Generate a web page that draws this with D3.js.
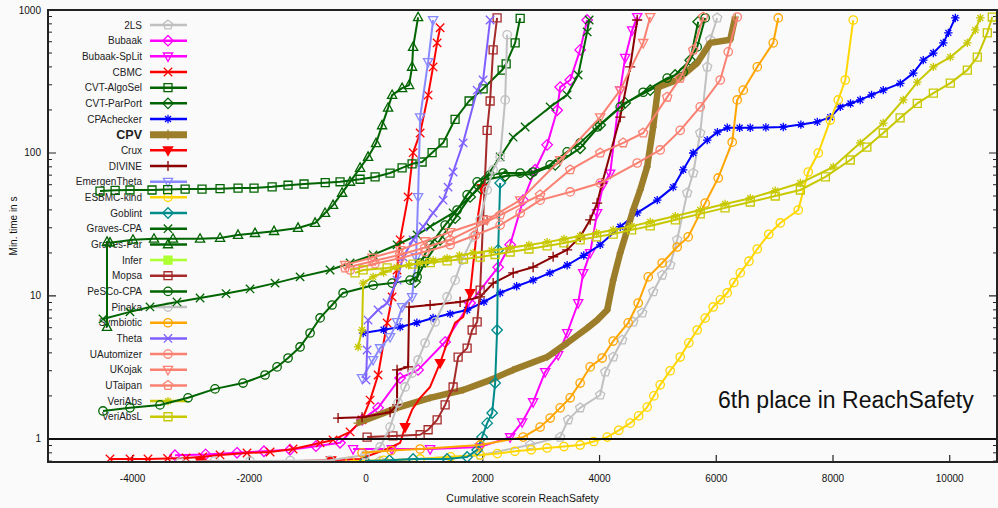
<!DOCTYPE html>
<html>
<head>
<meta charset="utf-8">
<script src="https://cdn.jsdelivr.net/npm/d3@7"></script>
<style>
  body { margin: 0; background: #fafafa; }
  svg { display: block; font-family: "Liberation Sans", Arial, sans-serif; }
</style>
</head>
<body>
<svg id="chart" width="998" height="508"></svg>
<script>
// ---------- data: [cumulative score, min. time in s] ----------
const seriesNames = ["2LS", "Bubaak", "Bubaak-SpLit", "CBMC", "CVT-AlgoSel", "CVT-ParPort", "CPAchecker", "CPV",
  "Crux", "DIVINE", "EmergenTheta", "ESBMC-kind", "Goblint", "Graves-CPA", "Graves-Par", "Infer", "Mopsa",
  "PeSCo-CPA", "Pinaka", "Symbiotic", "Theta", "UAutomizer", "UKojak", "UTaipan", "VeriAbs", "VeriAbsL"];

const seriesColors = ["#c0c0c0", "#ff00ff", "#ff00ff", "#ff0000", "#006400", "#006400", "#0000ff", "#9c7d2a",
  "#ff0000", "#8b0000", "#8888ff", "#ffd700", "#008b8b", "#006400", "#006400", "#adff2f", "#a52a2a",
  "#006400", "#c0c0c0", "#ffa500", "#7f5fff", "#fa8072", "#fa8072", "#fa8072", "#c8c800", "#c8c800"];

const seriesMarkers = ["pentagon", "diamond", "triDown", "x", "square", "diamond", "asterisk", "plus",
  "triDownFilled", "plus", "triDown", "circle", "diamond", "x", "triUp", "squareFilled", "square",
  "circle", "circle", "circle", "x", "circle", "triDown", "pentagon", "asterisk", "square"];

// draw a marker on every n-th point
const markerStep = [1, 1, 1, 1, 1, 1, 1, 1, 4, 1, 1, 1, 1, 1, 1, 1, 1, 1, 1, 1, 1, 1, 1, 1, 1, 1];

const twoLS = [[240,0.70],[1954,0.77],[2811,0.91],[3325,1.03],[3462,1.36],[3668,1.65],[4011,2.03],[4097,2.94],
  [4234,3.74],[4388,4.92],[4577,6.58],[4731,7.61],[4919,10.7],[5073,14.0],[5210,16.5],[5330,24.7],[5502,52.6],
  [5605,72.4],[5725,138],[5845,400],[5896,620],[6016,880]];
const bubaak = [[-3274,0.77],[-2750,0.78],[-2211,0.80],[-1750,0.82],[-1303,0.84],[-860,0.89],[-446,0.94],[-69,1.36],
  [206,1.65],[583,2.67],[891,3.04],[1354,4.76],[1783,8.93],[2263,15.9],[2468,22.8],[2691,46.8],[2897,76.3],
  [3102,114],[3274,199],[3325,289],[3497,324],[3668,526],[3788,851]];
const bubaakSpLit = [[-223,0.85],[440,0.85],[1097,0.85],[1954,0.88],[2468,1.03],[2674,1.31],[2862,1.81],[3068,2.94],
  [3291,3.87],[3445,5.51],[3634,8.93],[3720,14.5],[3839,20.0],[3959,38.1],[4062,60],[4182,72],[4354,275],
  [4439,464],[4559,722],[4645,893]];
const cbmc = [[-4388,0.725],[-4045,0.725],[-3737,0.725],[-3400,0.73],[-3085,0.736],[-2800,0.75],[-2502,0.773],[-2040,0.798],
  [-1645,0.811],[-1251,0.851],[-788,0.938],[-566,0.984],[-274,1.12],[-69,1.36],[69,1.87],[206,2.80],[360,6.48],
  [446,9.84],[531,15.2],[583,24.7],[720,49.3],[806,100.5],[926,138],[1063,254],[1148,400],[1217,589],[1268,751]];
const cvtAlgoSel = [[-4559,54.2],[-4300,54.8],[-4045,55.1],[-3668,55.1],[-3400,55.5],[-3100,55.9],[-2811,55.9],
  [-2502,56.3],[-2194,56.8],[-1920,56.8],[-1610,58],[-1337,59.5],[-1063,60.7],[-700,62],[-446,62.9],[-103,65.5],
  [154,68.0],[411,72.4],[617,78.6],[788,84],[960,86.5],[1131,100.5],[1320,117.7],[1525,172],[1765,231],[2005,281],
  [2331,380],[2400,420],[2554,589],[2640,875]];
const cvtParPort = [[840,12.5],[1011,17.3],[1268,24.7],[1525,35.0],[1783,49.3],[2040,64.9],[2383,69.0],[2811,71.0],
  [3240,82.6],[3668,108],[4011,157],[4439,224],[4868,275],[5296,351],[5553,445],[5690,827]];
const cpachecker = [[-51,5.51],[300,5.8],[583,6.06],[870,6.5],[1148,7.02],[1440,7.5],[1731,7.98],[2020,9.1],
  [2297,10.5],[2580,11.7],[2862,12.9],[3150,14.5],[3445,16.4],[3730,19.2],[4011,22.8],[4354,30.5],[4645,38.1],
  [4988,46.8],[5262,57.7],[5433,76.3],[5605,100],[5845,123],[6020,140],[6188,150],[6400,150],[6582,150],
  [6850,151],[7148,152],[7450,158],[7731,165],[7953,178],[8125,210],[8300,222],[8467,235],[8661,255],[8861,275],
  [9153,307],[9376,362],[9547,446],[9719,500],[9890,589],[9976,692],[10096,880]];
const cpv = [[-154,1.29],[531,1.65],[1097,1.94],[1663,2.20],[2125,2.58],[2520,3.04],[3102,3.74],[3445,4.69],
  [3788,5.96],[3959,6.78],[4131,7.98],[4234,12.9],[4354,20.0],[4474,28.9],[4577,40.0],[4697,55.1],[4816,80.1],
  [4919,152],[5005,289],[5330,324],[5673,426],[5896,589],[6239,620],[6325,893]];
const crux = [[-2845,0.70],[-2300,0.70],[-1700,0.70],[-1131,0.70],[-600,0.71],[-103,0.725],[360,0.851],[583,0.938],
  [668,1.21],[788,1.60],[926,1.94],[1097,2.31],[1268,3.40],[1405,4.92],[1525,6.48],[1663,7.13],[1783,10.5],
  [1834,16.5],[1868,21.7],[1920,36.8],[1988,56.8]];
const divine = [[-480,1.40],[-69,1.42],[411,1.54],[531,1.73],[531,3.04],[720,3.19],[737,8.38],[1097,8.65],[1611,9.09],
  [1954,9.84],[2177,12.3],[2520,14.5],[2862,15.9],[3205,18.8],[3445,21.0],[3668,25.9],[3839,34.1],[3959,44.6],
  [4045,61.6],[4354,178],[4525,400],[4645,851]];
const emergenTheta = [[-69,2.67],[120,3.57],[240,4.32],[411,5.17],[531,6.58],[617,8.38],[788,9.84],[857,18.7],
  [891,49.3],[926,178],[1063,433],[1148,851]];
const esbmcKind = [[-274,0.70],[300,0.71],[926,0.725],[1450,0.75],[1954,0.773],[2250,0.79],[2550,0.82],[2830,0.84],
  [3102,0.865],[3390,0.885],[3668,0.908],[3900,0.96],[4131,1.03],[4330,1.15],[4525,1.29],[4670,1.45],[4816,1.67],
  [4930,2.0],[5039,2.39],[5210,3.0],[5382,3.74],[5530,4.7],[5673,5.78],[5810,7.0],[5947,8.38],[6070,9.4],
  [6188,10.5],[6300,12.4],[6411,14.5],[6560,17.5],[6702,21.3],[6900,27],[7097,32.4],[7405,39.9],
  [7576,73.6],[7748,100],[7953,170],[8090,235],[8210,324],[8347,851]];
const goblint = [[-17,0.70],[400,0.71],[806,0.725],[1388,0.725],[1731,0.748],[1903,0.838],[1988,1.03],[2074,1.29],
  [2160,1.52],[2211,2.46],[2245,5.78],[2263,21.0],[2297,61.6]];
const gravesCPA = [[-4508,6.9],[-4045,7.74],[-3702,8.38],[-3240,9.09],[-2845,9.68],[-2400,10.4],[-1988,11.2],
  [-1560,12.3],[-1131,13.6],[-617,15.2],[-274,17.0],[120,19.4],[531,22.8],[874,26.7],[1097,30.5],[1491,38.1],
  [1903,55.1],[2297,93.8],[2520,129],[2725,152],[3154,210],[3445,255],[3634,351],[3788,703],[3822,851]];
const gravesPar = [[-4439,6.07],[-4439,23.9],[-4388,23.6],[-3994,24.7],[-3634,25.1],[-3308,25.1],[-2845,25.1],
  [-2502,25.4],[-2194,26.7],[-1903,27.5],[-1577,28.4],[-1166,29.9],[-874,32.4],[-703,38.0],[-566,43.2],
  [-411,52.6],[-274,62.8],[-103,78.6],[34,93.8],[171,117],[274,156],[377,207],[446,254],[617,284],[737,298],
  [788,400],[806,551],[891,889]];
const infer = [];
const mopsa = [[17,1.03],[460,1.05],[926,1.07],[1063,1.16],[1217,1.36],[1354,1.73],[1491,2.31],[1577,3.74],
  [1731,4.32],[1817,5.78],[1903,6.58],[1954,11.0],[2005,34.1],[2074,144],[2125,231],[2177,526],[2245,880]];
const pescoCPA = [[-4508,1.57],[-4045,1.65],[-3531,1.73],[-3051,1.94],[-2588,2.24],[-2108,2.46],[-1731,2.80],
  [-1525,3.19],[-1337,3.68],[-1131,4.40],[-960,5.51],[-788,7.02],[-583,8.65],[-394,10.5],[120,11.9],[446,12.3],
  [754,12.9],[874,13.6],[926,17.0],[1097,22.7],[1354,31.3],[1560,39.9],[1731,50.9],[1903,62.8],[2125,70.3],
  [2348,72.4],[2640,72.4],[2862,73.6],[3154,82.6],[3445,101.9],[3668,117.7],[3959,152],[4354,210],[4748,266],
  [5159,334],[5433,368],[5673,552],[5810,880]];
const pinaka = [[-3188,0.69],[-2600,0.70],[-1988,0.70],[-1300,0.705],[-617,0.71],[-17,0.773],[240,0.879],[411,1.21],
  [549,1.79],[668,2.31],[788,2.89],[891,3.57],[1011,4.69],[1183,6.58],[1388,9.84],[1525,12.9],[1645,17.8],
  [1834,25.9],[1954,34.1],[2074,55.1],[2177,76.3],[2297,93.8],[2383,235],[2417,671]];
const symbiotic = [[-69,0.80],[430,0.83],[926,0.851],[1954,0.908],[2691,1.03],[2982,1.21],[3154,1.40],[3325,1.65],
  [3497,1.94],[3668,2.46],[3839,3.19],[4045,3.68],[4234,4.84],[4491,6.48],[4662,8.93],[4834,13.6],[5073,17.0],
  [5330,22.0],[5519,25.9],[5810,44.6],[6033,66.9],[6273,119],[6359,235],[6462,275],[6702,400],[6976,589],[7062,880]];
const theta = [[0,2.58],[17,4.19],[34,6.78],[206,7.98],[360,8.93],[531,12.9],[634,18.7],[806,24.7],[977,30.5],
  [1148,38.1],[1320,46.8],[1405,57.7],[1491,73.6],[1663,117.7],[1903,275],[2005,324],[2125,851]];
const uAutomizer = [[-274,15.2],[150,16.8],[583,18.4],[1010,20.4],[1440,22.8],[1870,26.6],[2297,31.3],[2640,38],
  [2982,46.8],[3497,53.4],[4011,61.6],[4645,85.1],[5039,105],[5382,144],[5725,210],[6068,324],[6205,510],[6359,893]];
const uKojak = [[-360,16.5],[110,18.6],[583,21.0],[1010,24.2],[1440,28.0],[2074,34.1],[2640,46.8],[3325,89.3],
  [4011,178],[4354,275],[4748,589],[4868,893]];
const uTaipan = [[-360,15.7],[110,17.5],[583,19.4],[1010,21.8],[1440,24.7],[2297,36.8],[2982,50.9],[3497,76.3],
  [4011,100],[4405,117.7],[4748,138],[5159,246],[5382,334],[5605,526],[5776,893]];
const veriAbs = [[-137,4.40],[-69,5.78],[-51,12.3],[120,13.6],[300,14.6],[531,15.9],[730,16.4],[926,17.0],[1150,17.7],
  [1388,18.4],[1600,19.2],[1834,20.0],[2150,20.8],[2468,21.7],[2790,22.7],[3102,23.8],[3390,25.0],[3668,26.3],
  [3950,27.6],[4234,28.9],[4550,30.8],[4868,32.9],[5300,36.2],[5725,39.9],[6150,44.0],[6582,48.3],[7010,54.5],
  [7440,61.6],[8004,79.8],[8467,117.7],[8861,162],[9204,235],[9444,313],[9719,400],[10010,468],[10301,589],
  [10438,725],[10524,880]];
const veriAbsL = [[-189,14.5],[-51,15.2],[360,15.7],[806,16.7],[1100,17.1],[1388,17.6],[1670,18.1],[1954,18.7],
  [2210,19.5],[2468,20.3],[2790,21.3],[3102,22.4],[3390,23.5],[3668,24.7],[3950,25.9],[4234,27.1],[4550,29.0],
  [4868,30.9],[5300,34.1],[5725,37.5],[6150,41.3],[6582,45.4],[7010,50],[7440,55.1],[7870,68],
  [8296,89.3],[8580,110],[8861,138],[9150,176],[9444,222],[9720,262],[10010,308],[10301,380],[10472,468],
  [10644,692],[10729,893]];

const seriesData = [twoLS, bubaak, bubaakSpLit, cbmc, cvtAlgoSel, cvtParPort, cpachecker, cpv, crux, divine,
  emergenTheta, esbmcKind, goblint, gravesCPA, gravesPar, infer, mopsa, pescoCPA, pinaka, symbiotic, theta,
  uAutomizer, uKojak, uTaipan, veriAbs, veriAbsL];

const xTicks = [-4000, -2000, 0, 2000, 4000, 6000, 8000, 10000];
const yTicks = [1, 10, 100, 1000];

// ---------- layout ----------
const svg = d3.select("#chart");
const plot = { left: 48, top: 10, right: 997, bottom: 462 };

const x = d3.scaleLinear().domain([-5450, 10810]).range([plot.left, plot.right]);
const y = d3.scaleLog().domain([0.69, 1000]).range([plot.bottom, plot.top]);

svg.append("rect").attr("width", 998).attr("height", 508).attr("fill", "#fafafa");

svg.append("defs").append("clipPath").attr("id", "clip")
  .append("rect")
  .attr("x", plot.left).attr("y", plot.top)
  .attr("width", plot.right - plot.left).attr("height", plot.bottom - plot.top);

// marker shapes, centred on 0,0
function markerPath(type, s) {
  const k = s * 0.95;
  switch (type) {
    case "circle":
    case "circleFilled":
      return `M${-s},0a${s},${s} 0 1,0 ${2 * s},0a${s},${s} 0 1,0 ${-2 * s},0Z`;
    case "square":
    case "squareFilled":
      return `M${-k},${-k}H${k}V${k}H${-k}Z`;
    case "diamond":
      return `M0,${-s * 1.25}L${s * 1.25},0L0,${s * 1.25}L${-s * 1.25},0Z`;
    case "triUp":
      return `M0,${-s * 1.2}L${s * 1.1},${s * 0.8}L${-s * 1.1},${s * 0.8}Z`;
    case "triDown":
    case "triDownFilled":
      return `M0,${s * 1.2}L${s * 1.1},${-s * 0.8}L${-s * 1.1},${-s * 0.8}Z`;
    case "pentagon": {
      const pts = d3.range(5).map(i => {
        const a = -Math.PI / 2 + i * 2 * Math.PI / 5;
        return [s * 1.15 * Math.cos(a), s * 1.15 * Math.sin(a)];
      });
      return "M" + pts.map(p => p.join(",")).join("L") + "Z";
    }
    case "x":
      return `M${-s},${-s}L${s},${s}M${-s},${s}L${s},${-s}`;
    case "plus":
      return `M${-s * 1.2},0H${s * 1.2}M0,${-s * 1.2}V${s * 1.2}`;
    case "asterisk":
      return `M${-s},0H${s}M0,${-s}V${s}M${-k * 0.75},${-k * 0.75}L${k * 0.75},${k * 0.75}M${-k * 0.75},${k * 0.75}L${k * 0.75},${-k * 0.75}`;
  }
  return "";
}
const filled = t => t.endsWith("Filled");

// ---------- axes ----------
const axisG = svg.append("g");

// y minor + major ticks (left and right, pointing inwards)
const yMinor = [];
[-1, 0, 1, 2].forEach(e => d3.range(2, 10).forEach(m => {
  const v = m * Math.pow(10, e);
  if (v >= 0.69 && v <= 1000) yMinor.push(v);
}));
axisG.selectAll(".ymin").data(yMinor).join("path")
  .attr("d", d => `M${plot.left},${y(d)}h4M${plot.right},${y(d)}h-4`)
  .attr("stroke", "#222").attr("stroke-width", 1);
axisG.selectAll(".ymaj").data(yTicks).join("path")
  .attr("d", d => `M${plot.left},${y(d)}h8M${plot.right},${y(d)}h-8`)
  .attr("stroke", "#222").attr("stroke-width", 1.2);
axisG.selectAll(".ylab").data(yTicks).join("text")
  .attr("x", plot.left - 7).attr("y", d => y(d) + 3.5)
  .attr("text-anchor", "end").attr("font-size", 10).attr("fill", "#111")
  .text(d => d);

axisG.selectAll(".xtick").data(xTicks).join("path")
  .attr("d", d => `M${x(d)},${plot.bottom}v-7`)
  .attr("stroke", "#222").attr("stroke-width", 1.2);
axisG.selectAll(".xlab").data(xTicks).join("text")
  .attr("x", d => x(d)).attr("y", plot.bottom + 20)
  .attr("text-anchor", "middle").attr("font-size", 10).attr("fill", "#111")
  .text(d => d);

svg.append("text")
  .attr("x", (plot.left + plot.right) / 2).attr("y", 502)
  .attr("text-anchor", "middle").attr("font-size", 10.5).attr("fill", "#111")
  .text("Cumulative scorein ReachSafety");

svg.append("text")
  .attr("transform", `translate(17,${(plot.top + plot.bottom) / 2 - 10}) rotate(-90)`)
  .attr("text-anchor", "middle").attr("font-size", 10).attr("fill", "#111")
  .text("Min. time in s");

// ---------- legend ----------
const legendG = svg.append("g");
seriesNames.forEach((name, i) => {
  const ly = 25 + i * 15.67;
  const isCPV = name === "CPV";
  legendG.append("text")
    .attr("x", 142).attr("y", ly + (isCPV ? 4.5 : 3.5))
    .attr("text-anchor", "end")
    .attr("font-size", isCPV ? 12.5 : 10)
    .attr("font-weight", isCPV ? "bold" : "normal")
    .attr("fill", "#222")
    .text(name);
  legendG.append("path")
    .attr("d", `M150,${ly}H187`)
    .attr("stroke", seriesColors[i])
    .attr("stroke-width", isCPV ? 7 : 2.5);
  legendG.append("path")
    .attr("transform", `translate(168,${ly})`)
    .attr("d", markerPath(seriesMarkers[i], 4.2))
    .attr("fill", filled(seriesMarkers[i]) ? seriesColors[i] : "none")
    .attr("stroke", seriesColors[i])
    .attr("stroke-width", 1.3);
});

// ---------- curves ----------
const line = d3.line().x(d => x(d[0])).y(d => y(d[1]));
const curves = svg.append("g").attr("clip-path", "url(#clip)");

seriesData.forEach((pts, i) => {
  if (!pts.length) return;
  const isCPV = seriesNames[i] === "CPV";
  const g = curves.append("g");
  g.append("path")
    .attr("d", line(pts))
    .attr("fill", "none")
    .attr("stroke", seriesColors[i])
    .attr("stroke-width", isCPV ? 6.5 : 2)
    .attr("stroke-linejoin", "round");
  g.selectAll("path.m").data(pts.filter((d, j) => j % markerStep[i] === 0)).join("path")
    .attr("class", "m")
    .attr("transform", d => `translate(${x(d[0])},${y(d[1])})`)
    .attr("d", markerPath(seriesMarkers[i], isCPV ? 3 : 4.2))
    .attr("fill", filled(seriesMarkers[i]) ? seriesColors[i] : "none")
    .attr("stroke", seriesColors[i])
    .attr("stroke-width", 1.3);
});

// one-second line and frame
svg.append("path")
  .attr("d", `M${plot.left},${y(1)}H${plot.right}`)
  .attr("stroke", "#111").attr("stroke-width", 2);
svg.append("rect")
  .attr("x", plot.left).attr("y", plot.top)
  .attr("width", plot.right - plot.left).attr("height", plot.bottom - plot.top)
  .attr("fill", "none").attr("stroke", "#222").attr("stroke-width", 2);

svg.append("text")
  .attr("x", 718).attr("y", 408)
  .attr("font-size", 23).attr("fill", "#111")
  .text("6th place in ReachSafety");
</script>
</body>
</html>
